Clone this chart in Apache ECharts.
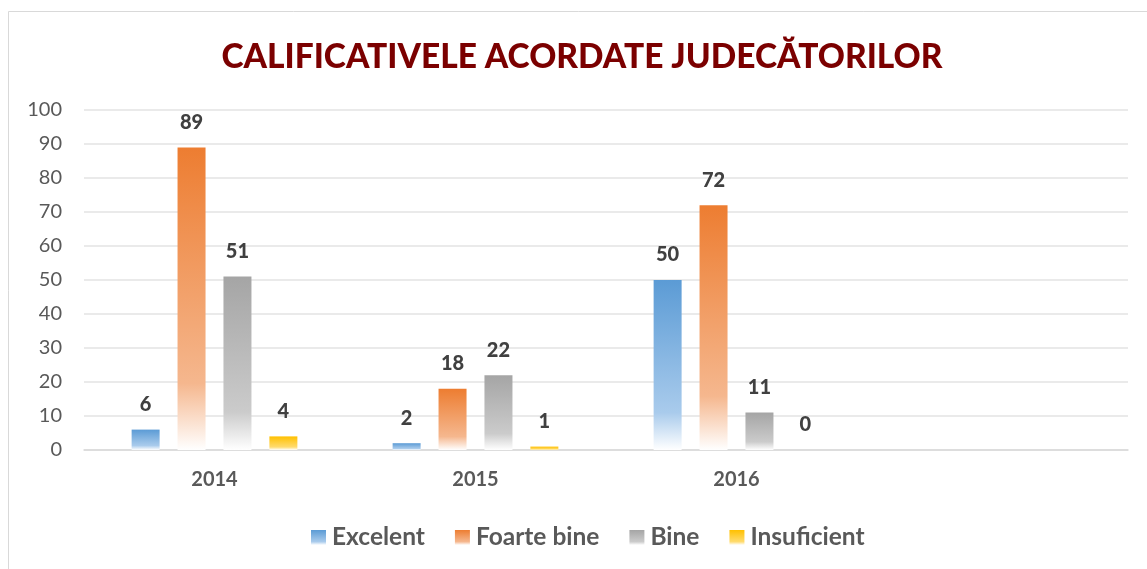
<!DOCTYPE html>
<html>
<head>
<meta charset="utf-8">
<script src="https://cdn.jsdelivr.net/npm/echarts@6/dist/echarts.min.js"></script>
<style>
html,body{margin:0;padding:0;background:#fff;}
#c{width:1147px;height:569px;}
</style>
</head>
<body>
<div id="c"></div>
<script>
const categories = ['2014', '2015', '2016', ''];
const excelent = [6, 2, 50, null];
const foarteBine = [89, 18, 72, null];
const bine = [51, 22, 11, null];
const insuficient = [4, 1, 0, null];
const yTicks = { min: 0, max: 100, interval: 10 };

const FONT = 'Lato, "Open Sans", sans-serif';

function grad(top, mid) {
  return new echarts.graphic.LinearGradient(0, 0, 0, 1, [
    { offset: 0, color: top },
    { offset: 0.78, color: mid },
    { offset: 1, color: '#ffffff' }
  ]);
}

function mk(name, data, top, mid) {
  return {
    name: name,
    type: 'bar',
    data: data,
    barWidth: 28,
    barGap: '64%',
    itemStyle: { color: grad(top, mid) },
    label: {
      show: true,
      position: 'top',
      distance: 15,
      fontFamily: FONT,
      fontWeight: 900,
      fontSize: 20,
      color: '#404040'
    }
  };
}

const chart = echarts.init(document.getElementById('c'));
chart.setOption({
  animation: false,
  backgroundColor: '#ffffff',
  graphic: [{
    type: 'rect',
    shape: { x: 8.5, y: 11.5, width: 1200, height: 600 },
    style: { fill: 'none', stroke: '#d9d9d9', lineWidth: 1 },
    silent: true
  }],
  title: {
    text: 'CALIFICATIVELE ACORDATE JUDECĂTORILOR',
    left: 577,
    textAlign: 'center',
    top: 35,
    textStyle: { fontFamily: FONT, fontWeight: 900, fontSize: 33.5, color: '#7b0000' }
  },
  legend: {
    left: 306,
    top: 520,
    itemWidth: 15,
    itemHeight: 15,
    itemGap: 30,
    icon: 'rect',
    textStyle: { fontFamily: FONT, fontWeight: 'bold', fontSize: 24.5, color: '#595959', padding: [0, 0, 0, 1] },
    data: ['Excelent', 'Foarte bine', 'Bine', 'Insuficient']
  },
  grid: { left: 84, right: 19, top: 110, bottom: 119 },
  xAxis: {
    type: 'category',
    data: categories,
    axisTick: { show: false },
    axisLine: { lineStyle: { color: '#d9d9d9', width: 1.5 } },
    axisLabel: { fontFamily: FONT, fontWeight: 'bold', fontSize: 20, color: '#595959', margin: 20 }
  },
  yAxis: {
    type: 'value',
    min: yTicks.min,
    max: yTicks.max,
    interval: yTicks.interval,
    axisLine: { show: false },
    axisTick: { show: false },
    splitLine: { lineStyle: { color: '#e3e3e3', width: 1.5 } },
    axisLabel: { fontFamily: FONT, fontSize: 20, color: '#595959', margin: 22 }
  },
  series: [
    mk('Excelent', excelent, '#5b9bd5', '#a9cbec'),
    mk('Foarte bine', foarteBine, '#ed7d31', '#f5b78e'),
    mk('Bine', bine, '#a5a5a5', '#cbcbcb'),
    mk('Insuficient', insuficient, '#ffc000', '#ffdb6e')
  ]
});
</script>
</body>
</html>
